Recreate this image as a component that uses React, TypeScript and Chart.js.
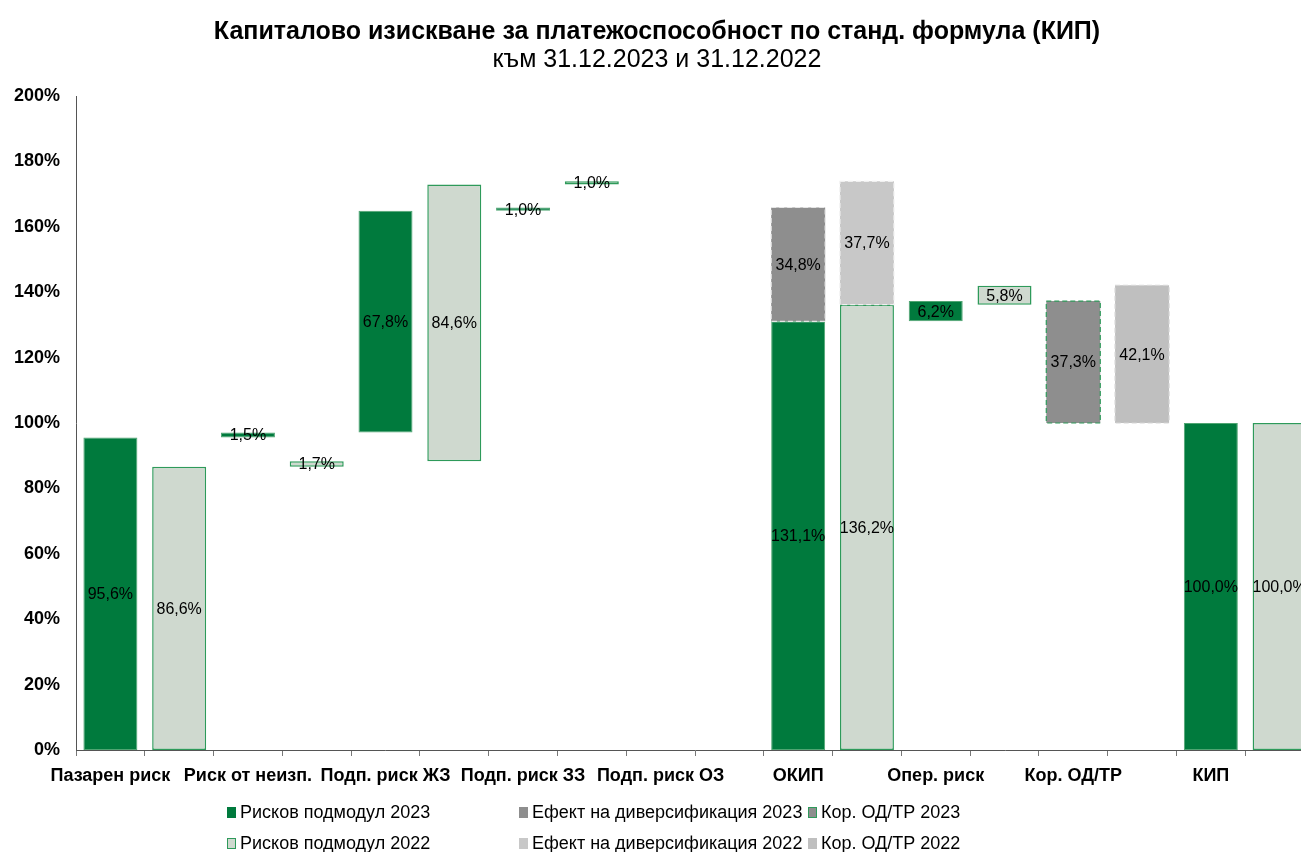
import React, { useEffect, useRef } from "react";
import { Chart, registerables } from "chart.js";

Chart.register(...registerables);

const FONT = "'Liberation Sans', Arial, sans-serif";

const titleText = "Капиталово изискване за платежоспособност по станд. формула (КИП)";
const subtitleText = "към 31.12.2023 и 31.12.2022";

const categories = [
  "Пазарен риск", "",
  "Риск от неизп.", "",
  "Подп. риск ЖЗ", "",
  "Подп. риск ЗЗ", "",
  "Подп. риск ОЗ", "",
  "ОКИП", "",
  "Опер. риск", "",
  "Кор. ОД/ТР", "",
  "КИП", "",
];

const yMin = 0;
const yMax = 200;
const yStep = 20;

type Range = [number, number] | null;

// floating bars: [start, end] in %
const riskModule2023: Range[] = [
  [0, 95.6], null, [95.6, 97.1], null, [97.1, 164.9], null, [164.9, 165.9], null,
  null, null, [0, 131.1], null, [131.1, 137.3], null, null, null, [0, 100], null,
];
const riskModule2022: Range[] = [
  null, [0, 86.6], null, [86.6, 88.3], null, [88.3, 172.9], null, [172.9, 173.9],
  null, null, null, [0, 136.2], null, [136.2, 142.0], null, null, null, [0, 100],
];
const diversification2023: Range[] = [
  null, null, null, null, null, null, null, null, null, null,
  [131.1, 165.9], null, null, null, null, null, null, null,
];
const diversification2022: Range[] = [
  null, null, null, null, null, null, null, null, null, null,
  null, [136.2, 173.9], null, null, null, null, null, null,
];
const corr2023: Range[] = [
  null, null, null, null, null, null, null, null, null, null,
  null, null, null, null, [100, 137.3], null, null, null,
];
const corr2022: Range[] = [
  null, null, null, null, null, null, null, null, null, null,
  null, null, null, null, null, [100, 142.1], null, null,
];

const seriesNames = [
  "Рисков подмодул 2023",
  "Ефект на диверсификация 2023",
  "Кор. ОД/ТР 2023",
  "Рисков подмодул 2022",
  "Ефект на диверсификация 2022",
  "Кор. ОД/ТР 2022",
];

const C_GREEN = "#007a3d";
const C_GREEN_BORDER = "#2e9a5a";
const C_LIGHT = "#cfd9cf";
const C_GRAY = "#8e8e8e";
const C_LGRAY = "#c8c8c8";
const C_KGRAY = "#bfbfbf";

const fmt = (v: number) => v.toFixed(1).replace(".", ",") + "%";

const overlayPlugin = {
  id: "overlay",
  afterDatasetsDraw(chart: any) {
    const ctx = chart.ctx;
    // dashed borders
    chart.data.datasets.forEach((ds: any, i: number) => {
      if (!ds.dashColor) return;
      const meta = chart.getDatasetMeta(i);
      meta.data.forEach((el: any, j: number) => {
        if (ds.data[j] == null) return;
        const { x, y, base, width } = el.getProps(["x", "y", "base", "width"], true);
        ctx.save();
        ctx.setLineDash([5, 3]);
        ctx.strokeStyle = ds.dashColor;
        ctx.lineWidth = 1.2;
        ctx.strokeRect(x - width / 2, Math.min(y, base), width, Math.abs(base - y));
        ctx.restore();
      });
    });
    // value labels
    chart.data.datasets.forEach((ds: any, i: number) => {
      const meta = chart.getDatasetMeta(i);
      meta.data.forEach((el: any, j: number) => {
        const v = ds.data[j];
        if (v == null) return;
        const { x, y, base } = el.getProps(["x", "y", "base"], true);
        ctx.save();
        ctx.font = `16px ${FONT}`;
        ctx.fillStyle = "#000";
        ctx.textAlign = "center";
        ctx.textBaseline = "middle";
        ctx.fillText(fmt(v[1] - v[0]), x, (y + base) / 2 + 1);
        ctx.restore();
      });
    });
  },
};

const legendItems = [
  { name: seriesNames[0], fill: C_GREEN, border: C_GREEN, left: 227, top: 812 },
  { name: seriesNames[1], fill: C_GRAY, border: C_GRAY, left: 519, top: 812 },
  { name: seriesNames[2], fill: C_GRAY, border: C_GREEN_BORDER, left: 808, top: 812 },
  { name: seriesNames[3], fill: C_LIGHT, border: C_GREEN_BORDER, left: 227, top: 843 },
  { name: seriesNames[4], fill: C_LGRAY, border: C_LGRAY, left: 519, top: 843 },
  { name: seriesNames[5], fill: C_KGRAY, border: C_KGRAY, left: 808, top: 843 },
];

export default function App() {
  const ref = useRef<HTMLCanvasElement>(null);

  useEffect(() => {
    document.body.style.margin = "0";
    document.body.style.overflow = "hidden";
    Chart.defaults.font.family = FONT;
    Chart.defaults.color = "#000";
    const common = {
      grouped: false,
      barPercentage: 0.785,
      categoryPercentage: 1,
      borderSkipped: false,
    };
    const chart = new Chart(ref.current!, {
      type: "bar",
      data: {
        labels: categories,
        datasets: [
          { ...common, label: seriesNames[0], data: riskModule2023 as any, backgroundColor: C_GREEN, borderColor: "#4fa572", borderWidth: 1 },
          { ...common, label: seriesNames[3], data: riskModule2022 as any, backgroundColor: C_LIGHT, borderColor: C_GREEN_BORDER, borderWidth: 1.5 },
          { ...common, label: seriesNames[1], data: diversification2023 as any, backgroundColor: C_GRAY, borderWidth: 0, dashColor: "#e6e6e6" } as any,
          { ...common, label: seriesNames[4], data: diversification2022 as any, backgroundColor: C_LGRAY, borderWidth: 0, dashColor: "#f0f0f0" } as any,
          { ...common, label: seriesNames[2], data: corr2023 as any, backgroundColor: C_GRAY, borderWidth: 0, dashColor: C_GREEN_BORDER } as any,
          { ...common, label: seriesNames[5], data: corr2022 as any, backgroundColor: C_KGRAY, borderWidth: 0, dashColor: "#d6d6d6" } as any,
        ],
      },
      options: {
        responsive: false,
        animation: false,
        layout: { padding: { top: 0, left: 0, right: 6, bottom: 0 } },
        plugins: {
          legend: { display: false },
          tooltip: { enabled: false },
          title: {
            display: true,
            text: titleText,
            font: { size: 25, weight: "bold", family: FONT, lineHeight: 1 },
            color: "#000",
            padding: { top: 20, bottom: 2 },
          },
          subtitle: {
            display: true,
            text: subtitleText,
            font: { size: 25, family: FONT, lineHeight: 1 },
            color: "#000",
            padding: { top: 1, bottom: 23 },
          },
        },
        scales: {
          x: {
            grid: { display: true, drawOnChartArea: false, drawTicks: true, tickLength: 6, color: "#777", offset: true },
            border: { display: true, color: "#555", width: 1 },
            ticks: { autoSkip: false, maxRotation: 0, minRotation: 0, padding: 9, font: { size: 18, weight: "bold", family: FONT }, color: "#000" },
            afterFit: (s: any) => { s.height = 102; },
          },
          y: {
            min: yMin,
            max: yMax,
            grid: { display: false, drawTicks: false },
            border: { display: true, color: "#555", width: 1 },
            ticks: { stepSize: yStep, padding: 16, callback: (v: any) => `${v}%`, font: { size: 18, weight: "bold", family: FONT }, color: "#000" },
            afterFit: (s: any) => { s.width = 76; },
          },
        },
      } as any,
      plugins: [overlayPlugin],
    });
    return () => chart.destroy();
  }, []);

  return (
    <div style={{ position: "fixed", left: 0, top: 0, width: 1301, height: 852, overflow: "hidden", background: "#fff" }}>
      <canvas ref={ref} width={1320} height={852} style={{ width: 1320, height: 852, display: "block" }} />
      {legendItems.map((it) => (
        <div
          key={it.name}
          style={{
            position: "absolute",
            left: it.left,
            top: it.top - 11,
            height: 22,
            display: "flex",
            alignItems: "center",
            fontFamily: FONT,
            fontSize: 18,
            color: "#000",
            whiteSpace: "nowrap",
          }}
        >
          <span
            style={{
              display: "inline-block",
              width: 7,
              height: 9,
              background: it.fill,
              border: `1px solid ${it.border}`,
              marginRight: 4,
            }}
          />
          {it.name}
        </div>
      ))}
    </div>
  );
}
